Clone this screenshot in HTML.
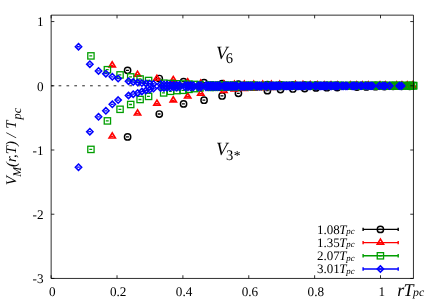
<!DOCTYPE html>
<html><head><meta charset="utf-8"><title>plot</title><style>html,body{margin:0;padding:0;background:#fff}svg{display:block;will-change:transform}text{text-rendering:geometricPrecision}</style></head><body>
<svg width="436" height="305" viewBox="0 0 436 305">
<rect width="436" height="305" fill="#fff"/>
<path d="M51.15 85.79H413.45" stroke="#000" stroke-width="0.85" stroke-dasharray="2.7 5.16" stroke-dashoffset="0.4" fill="none"/>
<g font-family="Liberation Serif, serif" font-size="13.2" fill="#000">
<text x="43.6" y="26.32" text-anchor="end">1</text>
<text x="43.6" y="90.54" text-anchor="end">0</text>
<text x="43.6" y="154.76" text-anchor="end">-1</text>
<text x="43.6" y="218.98" text-anchor="end">-2</text>
<text x="43.6" y="283.20" text-anchor="end">-3</text>
<text x="52.35" y="296.3" text-anchor="middle">0</text>
<text x="118.22" y="296.3" text-anchor="middle">0.2</text>
<text x="184.10" y="296.3" text-anchor="middle">0.4</text>
<text x="249.97" y="296.3" text-anchor="middle">0.6</text>
<text x="315.84" y="296.3" text-anchor="middle">0.8</text>
<text x="381.71" y="296.3" text-anchor="middle">1</text>
</g>
<g stroke="#000000" fill="none" stroke-linejoin="miter" stroke-miterlimit="10">
<g stroke-width="1.45"><circle cx="127.60" cy="70.30" r="3.15"/><circle cx="127.60" cy="136.90" r="3.15"/><circle cx="159.27" cy="78.50" r="3.15"/><circle cx="159.27" cy="114.00" r="3.15"/><circle cx="183.57" cy="81.70" r="3.15"/><circle cx="183.57" cy="103.90" r="3.15"/><circle cx="204.05" cy="82.60" r="3.15"/><circle cx="204.05" cy="100.20" r="3.15"/><circle cx="222.10" cy="83.70" r="3.15"/><circle cx="222.10" cy="95.95" r="3.15"/><circle cx="238.41" cy="84.10" r="3.15"/><circle cx="238.41" cy="93.30" r="3.15"/><circle cx="267.38" cy="84.60" r="3.15"/><circle cx="267.38" cy="90.65" r="3.15"/><circle cx="280.50" cy="84.80" r="3.15"/><circle cx="280.50" cy="89.60" r="3.15"/><circle cx="292.91" cy="85.00" r="3.15"/><circle cx="292.91" cy="88.95" r="3.15"/><circle cx="304.71" cy="85.10" r="3.15"/><circle cx="304.71" cy="88.60" r="3.15"/><circle cx="315.98" cy="85.20" r="3.15"/><circle cx="315.98" cy="87.90" r="3.15"/><circle cx="326.79" cy="85.33" r="3.15"/><circle cx="326.79" cy="87.70" r="3.15"/><circle cx="337.20" cy="85.35" r="3.15"/><circle cx="337.20" cy="87.50" r="3.15"/><circle cx="356.95" cy="85.40" r="3.15"/><circle cx="356.95" cy="87.10" r="3.15"/><circle cx="366.36" cy="85.42" r="3.15"/><circle cx="366.36" cy="86.90" r="3.15"/><circle cx="375.50" cy="85.45" r="3.15"/><circle cx="375.50" cy="86.70" r="3.15"/><circle cx="384.39" cy="85.47" r="3.15"/><circle cx="384.39" cy="86.50" r="3.15"/><circle cx="393.04" cy="85.50" r="3.15"/><circle cx="393.04" cy="86.30" r="3.15"/><circle cx="401.49" cy="85.50" r="3.15"/><circle cx="401.49" cy="86.30" r="3.15"/><circle cx="409.73" cy="85.50" r="3.15"/><circle cx="409.73" cy="86.30" r="3.15"/></g>
<path stroke-width="1.3" d="M126.00 70.30h2.9M126.00 136.90h2.9M157.67 78.50h2.9M157.67 114.00h2.9M181.97 81.70h2.9M181.97 103.90h2.9M202.45 82.60h2.9M202.45 100.20h2.9M220.50 83.70h2.9M220.50 95.95h2.9M236.81 84.10h2.9M236.81 93.30h2.9M265.78 84.60h2.9M265.78 90.65h2.9M278.90 84.80h2.9M278.90 89.60h2.9M291.31 85.00h2.9M291.31 88.95h2.9M303.11 85.10h2.9M303.11 88.60h2.9M314.38 85.20h2.9M314.38 87.90h2.9M325.19 85.33h2.9M325.19 87.70h2.9M335.60 85.35h2.9M335.60 87.50h2.9M355.35 85.40h2.9M355.35 87.10h2.9M364.76 85.42h2.9M364.76 86.90h2.9M373.90 85.45h2.9M373.90 86.70h2.9M382.79 85.47h2.9M382.79 86.50h2.9M391.44 85.50h2.9M391.44 86.30h2.9M399.89 85.50h2.9M399.89 86.30h2.9M408.13 85.50h2.9M408.13 86.30h2.9"/>
</g>
<g stroke="#ff0000" fill="none" stroke-linejoin="miter" stroke-miterlimit="10">
<g stroke-width="1.6"><path d="M112.22 61.77l-3.15 5.10h6.30z"/><path d="M112.22 132.87l-3.15 5.10h6.30z"/><path d="M137.52 71.17l-3.15 5.10h6.30z"/><path d="M137.52 109.87l-3.15 5.10h6.30z"/><path d="M156.93 75.17l-3.15 5.10h6.30z"/><path d="M156.93 100.07l-3.15 5.10h6.30z"/><path d="M173.29 76.47l-3.15 5.10h6.30z"/><path d="M173.29 96.77l-3.15 5.10h6.30z"/><path d="M187.71 78.67l-3.15 5.10h6.30z"/><path d="M187.71 92.97l-3.15 5.10h6.30z"/><path d="M200.74 79.97l-3.15 5.10h6.30z"/><path d="M200.74 90.07l-3.15 5.10h6.30z"/><path d="M223.88 80.77l-3.15 5.10h6.30z"/><path d="M223.88 87.27l-3.15 5.10h6.30z"/><path d="M234.36 81.07l-3.15 5.10h6.30z"/><path d="M234.36 85.87l-3.15 5.10h6.30z"/><path d="M244.27 81.07l-3.15 5.10h6.30z"/><path d="M244.27 85.47l-3.15 5.10h6.30z"/><path d="M253.70 81.07l-3.15 5.10h6.30z"/><path d="M253.70 85.07l-3.15 5.10h6.30z"/><path d="M262.70 81.07l-3.15 5.10h6.30z"/><path d="M262.70 84.54l-3.15 5.10h6.30z"/><path d="M271.34 81.07l-3.15 5.10h6.30z"/><path d="M271.34 84.31l-3.15 5.10h6.30z"/><path d="M279.65 81.07l-3.15 5.10h6.30z"/><path d="M279.65 84.08l-3.15 5.10h6.30z"/><path d="M295.43 81.27l-3.15 5.10h6.30z"/><path d="M295.43 83.62l-3.15 5.10h6.30z"/><path d="M302.95 81.37l-3.15 5.10h6.30z"/><path d="M302.95 83.39l-3.15 5.10h6.30z"/><path d="M310.25 81.47l-3.15 5.10h6.30z"/><path d="M310.25 83.16l-3.15 5.10h6.30z"/><path d="M317.35 81.57l-3.15 5.10h6.30z"/><path d="M317.35 82.93l-3.15 5.10h6.30z"/><path d="M324.26 81.67l-3.15 5.10h6.30z"/><path d="M324.26 82.70l-3.15 5.10h6.30z"/><path d="M331.01 81.77l-3.15 5.10h6.30z"/><path d="M331.01 82.47l-3.15 5.10h6.30z"/><path d="M337.59 81.77l-3.15 5.10h6.30z"/><path d="M337.59 82.47l-3.15 5.10h6.30z"/><path d="M350.33 81.77l-3.15 5.10h6.30z"/><path d="M350.33 82.47l-3.15 5.10h6.30z"/><path d="M356.50 81.77l-3.15 5.10h6.30z"/><path d="M356.50 82.47l-3.15 5.10h6.30z"/><path d="M362.55 81.77l-3.15 5.10h6.30z"/><path d="M362.55 82.47l-3.15 5.10h6.30z"/><path d="M368.48 81.77l-3.15 5.10h6.30z"/><path d="M368.48 82.47l-3.15 5.10h6.30z"/><path d="M380.02 81.77l-3.15 5.10h6.30z"/><path d="M380.02 82.47l-3.15 5.10h6.30z"/><path d="M385.64 81.77l-3.15 5.10h6.30z"/><path d="M385.64 82.47l-3.15 5.10h6.30z"/><path d="M396.61 81.77l-3.15 5.10h6.30z"/><path d="M396.61 82.47l-3.15 5.10h6.30z"/><path d="M401.97 81.77l-3.15 5.10h6.30z"/><path d="M401.97 82.47l-3.15 5.10h6.30z"/><path d="M407.25 81.77l-3.15 5.10h6.30z"/><path d="M407.25 82.47l-3.15 5.10h6.30z"/><path d="M412.44 81.77l-3.15 5.10h6.30z"/><path d="M412.44 82.47l-3.15 5.10h6.30z"/></g>
<path stroke-width="1.3" d="M110.62 65.30h2.9M110.62 136.40h2.9M135.92 74.70h2.9M135.92 113.40h2.9M155.33 78.70h2.9M155.33 103.60h2.9M171.69 80.00h2.9M171.69 100.30h2.9M186.11 82.20h2.9M186.11 96.50h2.9M199.14 83.50h2.9M199.14 93.60h2.9M222.28 84.30h2.9M222.28 90.80h2.9M232.76 84.60h2.9M232.76 89.40h2.9M242.67 84.60h2.9M242.67 89.00h2.9M252.10 84.60h2.9M252.10 88.60h2.9M261.10 84.60h2.9M261.10 88.07h2.9M269.74 84.60h2.9M269.74 87.84h2.9M278.05 84.60h2.9M278.05 87.61h2.9M293.83 84.80h2.9M293.83 87.15h2.9M301.35 84.90h2.9M301.35 86.92h2.9M308.65 85.00h2.9M308.65 86.69h2.9M315.75 85.10h2.9M315.75 86.46h2.9M322.66 85.20h2.9M322.66 86.23h2.9M329.41 85.30h2.9M329.41 86.00h2.9M335.99 85.30h2.9M335.99 86.00h2.9M348.73 85.30h2.9M348.73 86.00h2.9M354.90 85.30h2.9M354.90 86.00h2.9M360.95 85.30h2.9M360.95 86.00h2.9M366.88 85.30h2.9M366.88 86.00h2.9M378.42 85.30h2.9M378.42 86.00h2.9M384.04 85.30h2.9M384.04 86.00h2.9M395.01 85.30h2.9M395.01 86.00h2.9M400.37 85.30h2.9M400.37 86.00h2.9M405.65 85.30h2.9M405.65 86.00h2.9M410.84 85.30h2.9M410.84 86.00h2.9"/>
</g>
<g stroke="#009e00" fill="none" stroke-linejoin="miter" stroke-miterlimit="10">
<g stroke-width="1.3"><rect x="87.78" y="52.75" width="6.30" height="6.30"/><rect x="87.78" y="146.25" width="6.30" height="6.30"/><rect x="104.25" y="66.55" width="6.30" height="6.30"/><rect x="104.25" y="117.75" width="6.30" height="6.30"/><rect x="116.90" y="71.75" width="6.30" height="6.30"/><rect x="116.90" y="106.15" width="6.30" height="6.30"/><rect x="127.56" y="73.75" width="6.30" height="6.30"/><rect x="127.56" y="101.35" width="6.30" height="6.30"/><rect x="136.95" y="75.85" width="6.30" height="6.30"/><rect x="136.95" y="96.35" width="6.30" height="6.30"/><rect x="145.44" y="77.35" width="6.30" height="6.30"/><rect x="145.44" y="93.25" width="6.30" height="6.30"/><rect x="160.51" y="80.05" width="6.30" height="6.30"/><rect x="160.51" y="89.75" width="6.30" height="6.30"/><rect x="167.33" y="80.35" width="6.30" height="6.30"/><rect x="167.33" y="88.15" width="6.30" height="6.30"/><rect x="173.79" y="80.65" width="6.30" height="6.30"/><rect x="173.79" y="87.45" width="6.30" height="6.30"/><rect x="179.93" y="80.85" width="6.30" height="6.30"/><rect x="179.93" y="87.15" width="6.30" height="6.30"/><rect x="185.80" y="81.05" width="6.30" height="6.30"/><rect x="185.80" y="86.20" width="6.30" height="6.30"/><rect x="191.42" y="81.30" width="6.30" height="6.30"/><rect x="191.42" y="85.45" width="6.30" height="6.30"/><rect x="196.84" y="81.55" width="6.30" height="6.30"/><rect x="196.84" y="84.70" width="6.30" height="6.30"/><rect x="207.11" y="81.75" width="6.30" height="6.30"/><rect x="207.11" y="84.25" width="6.30" height="6.30"/><rect x="212.01" y="81.97" width="6.30" height="6.30"/><rect x="212.01" y="84.16" width="6.30" height="6.30"/><rect x="216.76" y="81.99" width="6.30" height="6.30"/><rect x="216.76" y="84.07" width="6.30" height="6.30"/><rect x="221.39" y="82.01" width="6.30" height="6.30"/><rect x="221.39" y="83.98" width="6.30" height="6.30"/><rect x="225.89" y="82.03" width="6.30" height="6.30"/><rect x="225.89" y="83.89" width="6.30" height="6.30"/><rect x="230.29" y="82.05" width="6.30" height="6.30"/><rect x="230.29" y="83.81" width="6.30" height="6.30"/><rect x="234.58" y="82.07" width="6.30" height="6.30"/><rect x="234.58" y="83.72" width="6.30" height="6.30"/><rect x="242.87" y="82.11" width="6.30" height="6.30"/><rect x="242.87" y="83.54" width="6.30" height="6.30"/><rect x="246.89" y="82.13" width="6.30" height="6.30"/><rect x="246.89" y="83.45" width="6.30" height="6.30"/><rect x="250.83" y="82.15" width="6.30" height="6.30"/><rect x="250.83" y="83.40" width="6.30" height="6.30"/><rect x="254.69" y="82.17" width="6.30" height="6.30"/><rect x="254.69" y="83.36" width="6.30" height="6.30"/><rect x="262.21" y="82.21" width="6.30" height="6.30"/><rect x="262.21" y="83.26" width="6.30" height="6.30"/><rect x="265.87" y="82.23" width="6.30" height="6.30"/><rect x="265.87" y="83.22" width="6.30" height="6.30"/><rect x="273.02" y="82.27" width="6.30" height="6.30"/><rect x="273.02" y="83.12" width="6.30" height="6.30"/><rect x="276.51" y="82.29" width="6.30" height="6.30"/><rect x="276.51" y="83.08" width="6.30" height="6.30"/><rect x="279.94" y="82.31" width="6.30" height="6.30"/><rect x="279.94" y="83.03" width="6.30" height="6.30"/><rect x="283.33" y="82.33" width="6.30" height="6.30"/><rect x="283.33" y="82.98" width="6.30" height="6.30"/><rect x="286.67" y="82.35" width="6.30" height="6.30"/><rect x="286.67" y="82.94" width="6.30" height="6.30"/><rect x="289.96" y="82.35" width="6.30" height="6.30"/><rect x="289.96" y="82.89" width="6.30" height="6.30"/><rect x="293.21" y="82.35" width="6.30" height="6.30"/><rect x="293.21" y="82.84" width="6.30" height="6.30"/><rect x="299.58" y="82.35" width="6.30" height="6.30"/><rect x="299.58" y="82.75" width="6.30" height="6.30"/><rect x="302.70" y="82.35" width="6.30" height="6.30"/><rect x="302.70" y="82.75" width="6.30" height="6.30"/><rect x="305.79" y="82.35" width="6.30" height="6.30"/><rect x="305.79" y="82.75" width="6.30" height="6.30"/><rect x="308.84" y="82.35" width="6.30" height="6.30"/><rect x="308.84" y="82.75" width="6.30" height="6.30"/><rect x="311.86" y="82.35" width="6.30" height="6.30"/><rect x="311.86" y="82.75" width="6.30" height="6.30"/><rect x="314.84" y="82.35" width="6.30" height="6.30"/><rect x="314.84" y="82.75" width="6.30" height="6.30"/><rect x="317.79" y="82.35" width="6.30" height="6.30"/><rect x="317.79" y="82.75" width="6.30" height="6.30"/><rect x="323.59" y="82.35" width="6.30" height="6.30"/><rect x="323.59" y="82.75" width="6.30" height="6.30"/><rect x="326.45" y="82.35" width="6.30" height="6.30"/><rect x="326.45" y="82.75" width="6.30" height="6.30"/><rect x="329.27" y="82.35" width="6.30" height="6.30"/><rect x="329.27" y="82.75" width="6.30" height="6.30"/><rect x="332.07" y="82.35" width="6.30" height="6.30"/><rect x="332.07" y="82.75" width="6.30" height="6.30"/><rect x="334.84" y="82.35" width="6.30" height="6.30"/><rect x="334.84" y="82.75" width="6.30" height="6.30"/><rect x="337.59" y="82.35" width="6.30" height="6.30"/><rect x="337.59" y="82.75" width="6.30" height="6.30"/><rect x="340.31" y="82.35" width="6.30" height="6.30"/><rect x="340.31" y="82.75" width="6.30" height="6.30"/><rect x="345.67" y="82.35" width="6.30" height="6.30"/><rect x="345.67" y="82.75" width="6.30" height="6.30"/><rect x="348.32" y="82.35" width="6.30" height="6.30"/><rect x="348.32" y="82.75" width="6.30" height="6.30"/><rect x="350.94" y="82.35" width="6.30" height="6.30"/><rect x="350.94" y="82.75" width="6.30" height="6.30"/><rect x="353.54" y="82.35" width="6.30" height="6.30"/><rect x="353.54" y="82.75" width="6.30" height="6.30"/><rect x="358.68" y="82.35" width="6.30" height="6.30"/><rect x="358.68" y="82.75" width="6.30" height="6.30"/><rect x="361.21" y="82.35" width="6.30" height="6.30"/><rect x="361.21" y="82.75" width="6.30" height="6.30"/><rect x="366.23" y="82.35" width="6.30" height="6.30"/><rect x="366.23" y="82.75" width="6.30" height="6.30"/><rect x="368.70" y="82.35" width="6.30" height="6.30"/><rect x="368.70" y="82.75" width="6.30" height="6.30"/><rect x="371.16" y="82.35" width="6.30" height="6.30"/><rect x="371.16" y="82.75" width="6.30" height="6.30"/><rect x="373.60" y="82.35" width="6.30" height="6.30"/><rect x="373.60" y="82.75" width="6.30" height="6.30"/><rect x="376.02" y="82.35" width="6.30" height="6.30"/><rect x="376.02" y="82.75" width="6.30" height="6.30"/><rect x="378.42" y="82.35" width="6.30" height="6.30"/><rect x="378.42" y="82.75" width="6.30" height="6.30"/><rect x="380.81" y="82.35" width="6.30" height="6.30"/><rect x="380.81" y="82.75" width="6.30" height="6.30"/><rect x="385.53" y="82.35" width="6.30" height="6.30"/><rect x="385.53" y="82.75" width="6.30" height="6.30"/><rect x="387.87" y="82.35" width="6.30" height="6.30"/><rect x="387.87" y="82.75" width="6.30" height="6.30"/><rect x="390.19" y="82.35" width="6.30" height="6.30"/><rect x="390.19" y="82.75" width="6.30" height="6.30"/><rect x="392.49" y="82.35" width="6.30" height="6.30"/><rect x="392.49" y="82.75" width="6.30" height="6.30"/><rect x="394.78" y="82.35" width="6.30" height="6.30"/><rect x="394.78" y="82.75" width="6.30" height="6.30"/><rect x="397.05" y="82.35" width="6.30" height="6.30"/><rect x="397.05" y="82.75" width="6.30" height="6.30"/><rect x="399.31" y="82.35" width="6.30" height="6.30"/><rect x="399.31" y="82.75" width="6.30" height="6.30"/><rect x="403.79" y="82.35" width="6.30" height="6.30"/><rect x="403.79" y="82.75" width="6.30" height="6.30"/><rect x="406.00" y="82.35" width="6.30" height="6.30"/><rect x="406.00" y="82.75" width="6.30" height="6.30"/><rect x="408.21" y="82.35" width="6.30" height="6.30"/><rect x="408.21" y="82.75" width="6.30" height="6.30"/><rect x="410.40" y="82.35" width="6.30" height="6.30"/><rect x="410.40" y="82.75" width="6.30" height="6.30"/></g>
<path stroke-width="1.3" d="M89.33 55.90h2.9M89.33 149.40h2.9M105.80 69.70h2.9M105.80 120.90h2.9M118.45 74.90h2.9M118.45 109.30h2.9M129.11 76.90h2.9M129.11 104.50h2.9M138.50 79.00h2.9M138.50 99.50h2.9M146.99 80.50h2.9M146.99 96.40h2.9M162.06 83.20h2.9M162.06 92.90h2.9M168.88 83.50h2.9M168.88 91.30h2.9M175.34 83.80h2.9M175.34 90.60h2.9M181.48 84.00h2.9M181.48 90.30h2.9M187.35 84.20h2.9M187.35 89.35h2.9M192.97 84.45h2.9M192.97 88.60h2.9M198.39 84.70h2.9M198.39 87.85h2.9M208.66 84.90h2.9M208.66 87.40h2.9M213.56 85.12h2.9M213.56 87.31h2.9M218.31 85.14h2.9M218.31 87.22h2.9M222.94 85.16h2.9M222.94 87.13h2.9M227.44 85.18h2.9M227.44 87.04h2.9M231.84 85.20h2.9M231.84 86.96h2.9M236.13 85.22h2.9M236.13 86.87h2.9M244.42 85.26h2.9M244.42 86.69h2.9M248.44 85.28h2.9M248.44 86.60h2.9M252.38 85.30h2.9M252.38 86.55h2.9M256.24 85.32h2.9M256.24 86.51h2.9M263.76 85.36h2.9M263.76 86.41h2.9M267.42 85.38h2.9M267.42 86.37h2.9M274.57 85.42h2.9M274.57 86.27h2.9M278.06 85.44h2.9M278.06 86.23h2.9M281.49 85.46h2.9M281.49 86.18h2.9M284.88 85.48h2.9M284.88 86.13h2.9M288.22 85.50h2.9M288.22 86.09h2.9M291.51 85.50h2.9M291.51 86.04h2.9M294.76 85.50h2.9M294.76 85.99h2.9M301.13 85.50h2.9M301.13 85.90h2.9M304.25 85.50h2.9M304.25 85.90h2.9M307.34 85.50h2.9M307.34 85.90h2.9M310.39 85.50h2.9M310.39 85.90h2.9M313.41 85.50h2.9M313.41 85.90h2.9M316.39 85.50h2.9M316.39 85.90h2.9M319.34 85.50h2.9M319.34 85.90h2.9M325.14 85.50h2.9M325.14 85.90h2.9M328.00 85.50h2.9M328.00 85.90h2.9M330.82 85.50h2.9M330.82 85.90h2.9M333.62 85.50h2.9M333.62 85.90h2.9M336.39 85.50h2.9M336.39 85.90h2.9M339.14 85.50h2.9M339.14 85.90h2.9M341.86 85.50h2.9M341.86 85.90h2.9M347.22 85.50h2.9M347.22 85.90h2.9M349.87 85.50h2.9M349.87 85.90h2.9M352.49 85.50h2.9M352.49 85.90h2.9M355.09 85.50h2.9M355.09 85.90h2.9M360.23 85.50h2.9M360.23 85.90h2.9M362.76 85.50h2.9M362.76 85.90h2.9M367.78 85.50h2.9M367.78 85.90h2.9M370.25 85.50h2.9M370.25 85.90h2.9M372.71 85.50h2.9M372.71 85.90h2.9M375.15 85.50h2.9M375.15 85.90h2.9M377.57 85.50h2.9M377.57 85.90h2.9M379.97 85.50h2.9M379.97 85.90h2.9M382.36 85.50h2.9M382.36 85.90h2.9M387.08 85.50h2.9M387.08 85.90h2.9M389.42 85.50h2.9M389.42 85.90h2.9M391.74 85.50h2.9M391.74 85.90h2.9M394.04 85.50h2.9M394.04 85.90h2.9M396.33 85.50h2.9M396.33 85.90h2.9M398.60 85.50h2.9M398.60 85.90h2.9M400.86 85.50h2.9M400.86 85.90h2.9M405.34 85.50h2.9M405.34 85.90h2.9M407.55 85.50h2.9M407.55 85.90h2.9M409.76 85.50h2.9M409.76 85.90h2.9M411.95 85.50h2.9M411.95 85.90h2.9"/>
</g>
<g stroke="#0000ff" fill="none" stroke-linejoin="miter" stroke-miterlimit="10">
<g stroke-width="1.55"><path d="M78.51 43.60l3.15 3.15l-3.15 3.15l-3.15 -3.15z"/><path d="M78.51 164.05l3.15 3.15l-3.15 3.15l-3.15 -3.15z"/><path d="M89.84 61.00l3.15 3.15l-3.15 3.15l-3.15 -3.15z"/><path d="M89.84 128.55l3.15 3.15l-3.15 3.15l-3.15 -3.15z"/><path d="M98.53 67.80l3.15 3.15l-3.15 3.15l-3.15 -3.15z"/><path d="M98.53 113.65l3.15 3.15l-3.15 3.15l-3.15 -3.15z"/><path d="M105.86 70.55l3.15 3.15l-3.15 3.15l-3.15 -3.15z"/><path d="M105.86 107.65l3.15 3.15l-3.15 3.15l-3.15 -3.15z"/><path d="M112.32 73.65l3.15 3.15l-3.15 3.15l-3.15 -3.15z"/><path d="M112.32 101.15l3.15 3.15l-3.15 3.15l-3.15 -3.15z"/><path d="M118.16 75.45l3.15 3.15l-3.15 3.15l-3.15 -3.15z"/><path d="M118.16 96.95l3.15 3.15l-3.15 3.15l-3.15 -3.15z"/><path d="M128.52 78.00l3.15 3.15l-3.15 3.15l-3.15 -3.15z"/><path d="M128.52 92.35l3.15 3.15l-3.15 3.15l-3.15 -3.15z"/><path d="M133.22 78.85l3.15 3.15l-3.15 3.15l-3.15 -3.15z"/><path d="M133.22 91.05l3.15 3.15l-3.15 3.15l-3.15 -3.15z"/><path d="M137.66 79.35l3.15 3.15l-3.15 3.15l-3.15 -3.15z"/><path d="M137.66 89.75l3.15 3.15l-3.15 3.15l-3.15 -3.15z"/><path d="M141.88 79.95l3.15 3.15l-3.15 3.15l-3.15 -3.15z"/><path d="M141.88 88.35l3.15 3.15l-3.15 3.15l-3.15 -3.15z"/><path d="M145.91 80.25l3.15 3.15l-3.15 3.15l-3.15 -3.15z"/><path d="M145.91 87.35l3.15 3.15l-3.15 3.15l-3.15 -3.15z"/><path d="M149.78 80.55l3.15 3.15l-3.15 3.15l-3.15 -3.15z"/><path d="M149.78 86.45l3.15 3.15l-3.15 3.15l-3.15 -3.15z"/><path d="M153.51 80.75l3.15 3.15l-3.15 3.15l-3.15 -3.15z"/><path d="M153.51 85.45l3.15 3.15l-3.15 3.15l-3.15 -3.15z"/><path d="M160.57 81.15l3.15 3.15l-3.15 3.15l-3.15 -3.15z"/><path d="M160.57 84.95l3.15 3.15l-3.15 3.15l-3.15 -3.15z"/><path d="M163.94 81.25l3.15 3.15l-3.15 3.15l-3.15 -3.15z"/><path d="M163.94 84.75l3.15 3.15l-3.15 3.15l-3.15 -3.15z"/><path d="M167.21 81.45l3.15 3.15l-3.15 3.15l-3.15 -3.15z"/><path d="M167.21 84.58l3.15 3.15l-3.15 3.15l-3.15 -3.15z"/><path d="M170.39 81.65l3.15 3.15l-3.15 3.15l-3.15 -3.15z"/><path d="M170.39 84.42l3.15 3.15l-3.15 3.15l-3.15 -3.15z"/><path d="M173.49 81.85l3.15 3.15l-3.15 3.15l-3.15 -3.15z"/><path d="M173.49 84.25l3.15 3.15l-3.15 3.15l-3.15 -3.15z"/><path d="M176.51 81.87l3.15 3.15l-3.15 3.15l-3.15 -3.15z"/><path d="M176.51 84.23l3.15 3.15l-3.15 3.15l-3.15 -3.15z"/><path d="M179.46 81.89l3.15 3.15l-3.15 3.15l-3.15 -3.15z"/><path d="M179.46 84.21l3.15 3.15l-3.15 3.15l-3.15 -3.15z"/><path d="M185.17 81.93l3.15 3.15l-3.15 3.15l-3.15 -3.15z"/><path d="M185.17 84.17l3.15 3.15l-3.15 3.15l-3.15 -3.15z"/><path d="M187.93 81.95l3.15 3.15l-3.15 3.15l-3.15 -3.15z"/><path d="M187.93 84.15l3.15 3.15l-3.15 3.15l-3.15 -3.15z"/><path d="M190.64 81.97l3.15 3.15l-3.15 3.15l-3.15 -3.15z"/><path d="M190.64 84.13l3.15 3.15l-3.15 3.15l-3.15 -3.15z"/><path d="M193.29 81.99l3.15 3.15l-3.15 3.15l-3.15 -3.15z"/><path d="M193.29 84.11l3.15 3.15l-3.15 3.15l-3.15 -3.15z"/><path d="M198.47 82.03l3.15 3.15l-3.15 3.15l-3.15 -3.15z"/><path d="M198.47 84.07l3.15 3.15l-3.15 3.15l-3.15 -3.15z"/><path d="M200.98 82.05l3.15 3.15l-3.15 3.15l-3.15 -3.15z"/><path d="M200.98 84.05l3.15 3.15l-3.15 3.15l-3.15 -3.15z"/><path d="M205.90 82.08l3.15 3.15l-3.15 3.15l-3.15 -3.15z"/><path d="M205.90 83.99l3.15 3.15l-3.15 3.15l-3.15 -3.15z"/><path d="M208.30 82.09l3.15 3.15l-3.15 3.15l-3.15 -3.15z"/><path d="M208.30 83.96l3.15 3.15l-3.15 3.15l-3.15 -3.15z"/><path d="M210.66 82.11l3.15 3.15l-3.15 3.15l-3.15 -3.15z"/><path d="M210.66 83.93l3.15 3.15l-3.15 3.15l-3.15 -3.15z"/><path d="M212.99 82.12l3.15 3.15l-3.15 3.15l-3.15 -3.15z"/><path d="M212.99 83.90l3.15 3.15l-3.15 3.15l-3.15 -3.15z"/><path d="M215.28 82.14l3.15 3.15l-3.15 3.15l-3.15 -3.15z"/><path d="M215.28 83.87l3.15 3.15l-3.15 3.15l-3.15 -3.15z"/><path d="M217.55 82.15l3.15 3.15l-3.15 3.15l-3.15 -3.15z"/><path d="M217.55 83.84l3.15 3.15l-3.15 3.15l-3.15 -3.15z"/><path d="M219.78 82.17l3.15 3.15l-3.15 3.15l-3.15 -3.15z"/><path d="M219.78 83.81l3.15 3.15l-3.15 3.15l-3.15 -3.15z"/><path d="M224.16 82.20l3.15 3.15l-3.15 3.15l-3.15 -3.15z"/><path d="M224.16 83.76l3.15 3.15l-3.15 3.15l-3.15 -3.15z"/><path d="M226.31 82.21l3.15 3.15l-3.15 3.15l-3.15 -3.15z"/><path d="M226.31 83.73l3.15 3.15l-3.15 3.15l-3.15 -3.15z"/><path d="M228.44 82.23l3.15 3.15l-3.15 3.15l-3.15 -3.15z"/><path d="M228.44 83.70l3.15 3.15l-3.15 3.15l-3.15 -3.15z"/><path d="M230.53 82.24l3.15 3.15l-3.15 3.15l-3.15 -3.15z"/><path d="M230.53 83.67l3.15 3.15l-3.15 3.15l-3.15 -3.15z"/><path d="M232.61 82.26l3.15 3.15l-3.15 3.15l-3.15 -3.15z"/><path d="M232.61 83.64l3.15 3.15l-3.15 3.15l-3.15 -3.15z"/><path d="M234.66 82.27l3.15 3.15l-3.15 3.15l-3.15 -3.15z"/><path d="M234.66 83.61l3.15 3.15l-3.15 3.15l-3.15 -3.15z"/><path d="M236.69 82.29l3.15 3.15l-3.15 3.15l-3.15 -3.15z"/><path d="M236.69 83.58l3.15 3.15l-3.15 3.15l-3.15 -3.15z"/><path d="M240.68 82.30l3.15 3.15l-3.15 3.15l-3.15 -3.15z"/><path d="M240.68 83.53l3.15 3.15l-3.15 3.15l-3.15 -3.15z"/><path d="M242.64 82.31l3.15 3.15l-3.15 3.15l-3.15 -3.15z"/><path d="M242.64 83.50l3.15 3.15l-3.15 3.15l-3.15 -3.15z"/><path d="M244.58 82.31l3.15 3.15l-3.15 3.15l-3.15 -3.15z"/><path d="M244.58 83.48l3.15 3.15l-3.15 3.15l-3.15 -3.15z"/><path d="M246.51 82.31l3.15 3.15l-3.15 3.15l-3.15 -3.15z"/><path d="M246.51 83.46l3.15 3.15l-3.15 3.15l-3.15 -3.15z"/><path d="M248.42 82.31l3.15 3.15l-3.15 3.15l-3.15 -3.15z"/><path d="M248.42 83.43l3.15 3.15l-3.15 3.15l-3.15 -3.15z"/><path d="M250.30 82.32l3.15 3.15l-3.15 3.15l-3.15 -3.15z"/><path d="M250.30 83.41l3.15 3.15l-3.15 3.15l-3.15 -3.15z"/><path d="M252.17 82.32l3.15 3.15l-3.15 3.15l-3.15 -3.15z"/><path d="M252.17 83.39l3.15 3.15l-3.15 3.15l-3.15 -3.15z"/><path d="M255.86 82.33l3.15 3.15l-3.15 3.15l-3.15 -3.15z"/><path d="M255.86 83.34l3.15 3.15l-3.15 3.15l-3.15 -3.15z"/><path d="M257.68 82.33l3.15 3.15l-3.15 3.15l-3.15 -3.15z"/><path d="M257.68 83.32l3.15 3.15l-3.15 3.15l-3.15 -3.15z"/><path d="M259.49 82.33l3.15 3.15l-3.15 3.15l-3.15 -3.15z"/><path d="M259.49 83.30l3.15 3.15l-3.15 3.15l-3.15 -3.15z"/><path d="M261.27 82.33l3.15 3.15l-3.15 3.15l-3.15 -3.15z"/><path d="M261.27 83.27l3.15 3.15l-3.15 3.15l-3.15 -3.15z"/><path d="M264.81 82.34l3.15 3.15l-3.15 3.15l-3.15 -3.15z"/><path d="M264.81 83.25l3.15 3.15l-3.15 3.15l-3.15 -3.15z"/><path d="M266.55 82.34l3.15 3.15l-3.15 3.15l-3.15 -3.15z"/><path d="M266.55 83.24l3.15 3.15l-3.15 3.15l-3.15 -3.15z"/><path d="M270.00 82.35l3.15 3.15l-3.15 3.15l-3.15 -3.15z"/><path d="M270.00 83.23l3.15 3.15l-3.15 3.15l-3.15 -3.15z"/><path d="M271.70 82.35l3.15 3.15l-3.15 3.15l-3.15 -3.15z"/><path d="M271.70 83.22l3.15 3.15l-3.15 3.15l-3.15 -3.15z"/><path d="M273.39 82.35l3.15 3.15l-3.15 3.15l-3.15 -3.15z"/><path d="M273.39 83.22l3.15 3.15l-3.15 3.15l-3.15 -3.15z"/><path d="M275.07 82.36l3.15 3.15l-3.15 3.15l-3.15 -3.15z"/><path d="M275.07 83.22l3.15 3.15l-3.15 3.15l-3.15 -3.15z"/><path d="M276.73 82.36l3.15 3.15l-3.15 3.15l-3.15 -3.15z"/><path d="M276.73 83.21l3.15 3.15l-3.15 3.15l-3.15 -3.15z"/><path d="M278.38 82.36l3.15 3.15l-3.15 3.15l-3.15 -3.15z"/><path d="M278.38 83.20l3.15 3.15l-3.15 3.15l-3.15 -3.15z"/><path d="M280.02 82.37l3.15 3.15l-3.15 3.15l-3.15 -3.15z"/><path d="M280.02 83.20l3.15 3.15l-3.15 3.15l-3.15 -3.15z"/><path d="M283.27 82.37l3.15 3.15l-3.15 3.15l-3.15 -3.15z"/><path d="M283.27 83.19l3.15 3.15l-3.15 3.15l-3.15 -3.15z"/><path d="M284.88 82.37l3.15 3.15l-3.15 3.15l-3.15 -3.15z"/><path d="M284.88 83.19l3.15 3.15l-3.15 3.15l-3.15 -3.15z"/><path d="M286.47 82.38l3.15 3.15l-3.15 3.15l-3.15 -3.15z"/><path d="M286.47 83.18l3.15 3.15l-3.15 3.15l-3.15 -3.15z"/><path d="M288.06 82.38l3.15 3.15l-3.15 3.15l-3.15 -3.15z"/><path d="M288.06 83.17l3.15 3.15l-3.15 3.15l-3.15 -3.15z"/><path d="M289.63 82.38l3.15 3.15l-3.15 3.15l-3.15 -3.15z"/><path d="M289.63 83.17l3.15 3.15l-3.15 3.15l-3.15 -3.15z"/><path d="M291.20 82.38l3.15 3.15l-3.15 3.15l-3.15 -3.15z"/><path d="M291.20 83.16l3.15 3.15l-3.15 3.15l-3.15 -3.15z"/><path d="M292.75 82.39l3.15 3.15l-3.15 3.15l-3.15 -3.15z"/><path d="M292.75 83.16l3.15 3.15l-3.15 3.15l-3.15 -3.15z"/><path d="M295.83 82.39l3.15 3.15l-3.15 3.15l-3.15 -3.15z"/><path d="M295.83 83.15l3.15 3.15l-3.15 3.15l-3.15 -3.15z"/><path d="M297.35 82.40l3.15 3.15l-3.15 3.15l-3.15 -3.15z"/><path d="M297.35 83.14l3.15 3.15l-3.15 3.15l-3.15 -3.15z"/><path d="M298.87 82.40l3.15 3.15l-3.15 3.15l-3.15 -3.15z"/><path d="M298.87 83.14l3.15 3.15l-3.15 3.15l-3.15 -3.15z"/><path d="M300.37 82.40l3.15 3.15l-3.15 3.15l-3.15 -3.15z"/><path d="M300.37 83.14l3.15 3.15l-3.15 3.15l-3.15 -3.15z"/><path d="M301.87 82.40l3.15 3.15l-3.15 3.15l-3.15 -3.15z"/><path d="M301.87 83.13l3.15 3.15l-3.15 3.15l-3.15 -3.15z"/><path d="M303.36 82.41l3.15 3.15l-3.15 3.15l-3.15 -3.15z"/><path d="M303.36 83.12l3.15 3.15l-3.15 3.15l-3.15 -3.15z"/><path d="M304.84 82.41l3.15 3.15l-3.15 3.15l-3.15 -3.15z"/><path d="M304.84 83.12l3.15 3.15l-3.15 3.15l-3.15 -3.15z"/><path d="M307.77 82.42l3.15 3.15l-3.15 3.15l-3.15 -3.15z"/><path d="M307.77 83.11l3.15 3.15l-3.15 3.15l-3.15 -3.15z"/><path d="M309.22 82.42l3.15 3.15l-3.15 3.15l-3.15 -3.15z"/><path d="M309.22 83.11l3.15 3.15l-3.15 3.15l-3.15 -3.15z"/><path d="M310.67 82.42l3.15 3.15l-3.15 3.15l-3.15 -3.15z"/><path d="M310.67 83.10l3.15 3.15l-3.15 3.15l-3.15 -3.15z"/><path d="M314.96 82.43l3.15 3.15l-3.15 3.15l-3.15 -3.15z"/><path d="M314.96 83.08l3.15 3.15l-3.15 3.15l-3.15 -3.15z"/><path d="M316.37 82.43l3.15 3.15l-3.15 3.15l-3.15 -3.15z"/><path d="M316.37 83.08l3.15 3.15l-3.15 3.15l-3.15 -3.15z"/><path d="M319.18 82.44l3.15 3.15l-3.15 3.15l-3.15 -3.15z"/><path d="M319.18 83.07l3.15 3.15l-3.15 3.15l-3.15 -3.15z"/><path d="M320.57 82.44l3.15 3.15l-3.15 3.15l-3.15 -3.15z"/><path d="M320.57 83.06l3.15 3.15l-3.15 3.15l-3.15 -3.15z"/><path d="M321.96 82.44l3.15 3.15l-3.15 3.15l-3.15 -3.15z"/><path d="M321.96 83.06l3.15 3.15l-3.15 3.15l-3.15 -3.15z"/><path d="M323.34 82.45l3.15 3.15l-3.15 3.15l-3.15 -3.15z"/><path d="M323.34 83.05l3.15 3.15l-3.15 3.15l-3.15 -3.15z"/><path d="M324.71 82.45l3.15 3.15l-3.15 3.15l-3.15 -3.15z"/><path d="M324.71 83.05l3.15 3.15l-3.15 3.15l-3.15 -3.15z"/><path d="M326.07 82.45l3.15 3.15l-3.15 3.15l-3.15 -3.15z"/><path d="M326.07 83.05l3.15 3.15l-3.15 3.15l-3.15 -3.15z"/><path d="M327.43 82.45l3.15 3.15l-3.15 3.15l-3.15 -3.15z"/><path d="M327.43 83.04l3.15 3.15l-3.15 3.15l-3.15 -3.15z"/><path d="M330.13 82.45l3.15 3.15l-3.15 3.15l-3.15 -3.15z"/><path d="M330.13 83.04l3.15 3.15l-3.15 3.15l-3.15 -3.15z"/><path d="M331.46 82.45l3.15 3.15l-3.15 3.15l-3.15 -3.15z"/><path d="M331.46 83.03l3.15 3.15l-3.15 3.15l-3.15 -3.15z"/><path d="M334.12 82.46l3.15 3.15l-3.15 3.15l-3.15 -3.15z"/><path d="M334.12 83.03l3.15 3.15l-3.15 3.15l-3.15 -3.15z"/><path d="M335.44 82.46l3.15 3.15l-3.15 3.15l-3.15 -3.15z"/><path d="M335.44 83.02l3.15 3.15l-3.15 3.15l-3.15 -3.15z"/><path d="M336.75 82.46l3.15 3.15l-3.15 3.15l-3.15 -3.15z"/><path d="M336.75 83.02l3.15 3.15l-3.15 3.15l-3.15 -3.15z"/><path d="M338.06 82.46l3.15 3.15l-3.15 3.15l-3.15 -3.15z"/><path d="M338.06 83.02l3.15 3.15l-3.15 3.15l-3.15 -3.15z"/><path d="M341.95 82.46l3.15 3.15l-3.15 3.15l-3.15 -3.15z"/><path d="M341.95 83.01l3.15 3.15l-3.15 3.15l-3.15 -3.15z"/><path d="M343.23 82.46l3.15 3.15l-3.15 3.15l-3.15 -3.15z"/><path d="M343.23 83.01l3.15 3.15l-3.15 3.15l-3.15 -3.15z"/><path d="M345.78 82.46l3.15 3.15l-3.15 3.15l-3.15 -3.15z"/><path d="M345.78 83.00l3.15 3.15l-3.15 3.15l-3.15 -3.15z"/><path d="M347.05 82.46l3.15 3.15l-3.15 3.15l-3.15 -3.15z"/><path d="M347.05 83.00l3.15 3.15l-3.15 3.15l-3.15 -3.15z"/><path d="M352.06 82.47l3.15 3.15l-3.15 3.15l-3.15 -3.15z"/><path d="M352.06 82.98l3.15 3.15l-3.15 3.15l-3.15 -3.15z"/><path d="M353.30 82.47l3.15 3.15l-3.15 3.15l-3.15 -3.15z"/><path d="M353.30 82.98l3.15 3.15l-3.15 3.15l-3.15 -3.15z"/><path d="M354.54 82.47l3.15 3.15l-3.15 3.15l-3.15 -3.15z"/><path d="M354.54 82.98l3.15 3.15l-3.15 3.15l-3.15 -3.15z"/><path d="M357.00 82.47l3.15 3.15l-3.15 3.15l-3.15 -3.15z"/><path d="M357.00 82.97l3.15 3.15l-3.15 3.15l-3.15 -3.15z"/><path d="M360.65 82.47l3.15 3.15l-3.15 3.15l-3.15 -3.15z"/><path d="M360.65 82.96l3.15 3.15l-3.15 3.15l-3.15 -3.15z"/><path d="M361.85 82.47l3.15 3.15l-3.15 3.15l-3.15 -3.15z"/><path d="M361.85 82.96l3.15 3.15l-3.15 3.15l-3.15 -3.15z"/><path d="M365.44 82.47l3.15 3.15l-3.15 3.15l-3.15 -3.15z"/><path d="M365.44 82.95l3.15 3.15l-3.15 3.15l-3.15 -3.15z"/><path d="M367.82 82.48l3.15 3.15l-3.15 3.15l-3.15 -3.15z"/><path d="M367.82 82.94l3.15 3.15l-3.15 3.15l-3.15 -3.15z"/><path d="M370.17 82.48l3.15 3.15l-3.15 3.15l-3.15 -3.15z"/><path d="M370.17 82.94l3.15 3.15l-3.15 3.15l-3.15 -3.15z"/><path d="M371.34 82.48l3.15 3.15l-3.15 3.15l-3.15 -3.15z"/><path d="M371.34 82.93l3.15 3.15l-3.15 3.15l-3.15 -3.15z"/><path d="M372.51 82.48l3.15 3.15l-3.15 3.15l-3.15 -3.15z"/><path d="M372.51 82.93l3.15 3.15l-3.15 3.15l-3.15 -3.15z"/><path d="M379.42 82.48l3.15 3.15l-3.15 3.15l-3.15 -3.15z"/><path d="M379.42 82.91l3.15 3.15l-3.15 3.15l-3.15 -3.15z"/><path d="M382.82 82.49l3.15 3.15l-3.15 3.15l-3.15 -3.15z"/><path d="M382.82 82.90l3.15 3.15l-3.15 3.15l-3.15 -3.15z"/><path d="M385.07 82.49l3.15 3.15l-3.15 3.15l-3.15 -3.15z"/><path d="M385.07 82.90l3.15 3.15l-3.15 3.15l-3.15 -3.15z"/><path d="M389.52 82.49l3.15 3.15l-3.15 3.15l-3.15 -3.15z"/><path d="M389.52 82.88l3.15 3.15l-3.15 3.15l-3.15 -3.15z"/><path d="M399.33 82.50l3.15 3.15l-3.15 3.15l-3.15 -3.15z"/><path d="M399.33 82.86l3.15 3.15l-3.15 3.15l-3.15 -3.15z"/><path d="M401.47 82.50l3.15 3.15l-3.15 3.15l-3.15 -3.15z"/><path d="M401.47 82.85l3.15 3.15l-3.15 3.15l-3.15 -3.15z"/></g>
<path stroke-width="1.3" d="M76.91 46.75h2.9M76.91 167.20h2.9M88.24 64.15h2.9M88.24 131.70h2.9M96.93 70.95h2.9M96.93 116.80h2.9M104.26 73.70h2.9M104.26 110.80h2.9M110.72 76.80h2.9M110.72 104.30h2.9M116.56 78.60h2.9M116.56 100.10h2.9M126.92 81.15h2.9M126.92 95.50h2.9M131.62 82.00h2.9M131.62 94.20h2.9M136.06 82.50h2.9M136.06 92.90h2.9M140.28 83.10h2.9M140.28 91.50h2.9M144.31 83.40h2.9M144.31 90.50h2.9M148.18 83.70h2.9M148.18 89.60h2.9M151.91 83.90h2.9M151.91 88.60h2.9M158.97 84.30h2.9M158.97 88.10h2.9M162.34 84.40h2.9M162.34 87.90h2.9M165.61 84.60h2.9M165.61 87.73h2.9M168.79 84.80h2.9M168.79 87.57h2.9M171.89 85.00h2.9M171.89 87.40h2.9M174.91 85.02h2.9M174.91 87.38h2.9M177.86 85.04h2.9M177.86 87.36h2.9M183.57 85.08h2.9M183.57 87.32h2.9M186.33 85.10h2.9M186.33 87.30h2.9M189.04 85.12h2.9M189.04 87.28h2.9M191.69 85.14h2.9M191.69 87.26h2.9M196.87 85.18h2.9M196.87 87.22h2.9M199.38 85.20h2.9M199.38 87.20h2.9M204.30 85.23h2.9M204.30 87.14h2.9M206.70 85.24h2.9M206.70 87.11h2.9M209.06 85.26h2.9M209.06 87.08h2.9M211.39 85.27h2.9M211.39 87.05h2.9M213.68 85.29h2.9M213.68 87.02h2.9M215.95 85.30h2.9M215.95 86.99h2.9M218.18 85.32h2.9M218.18 86.96h2.9M222.56 85.35h2.9M222.56 86.91h2.9M224.71 85.36h2.9M224.71 86.88h2.9M226.84 85.38h2.9M226.84 86.85h2.9M228.93 85.39h2.9M228.93 86.82h2.9M231.01 85.41h2.9M231.01 86.79h2.9M233.06 85.42h2.9M233.06 86.76h2.9M235.09 85.44h2.9M235.09 86.73h2.9M239.08 85.45h2.9M239.08 86.68h2.9M241.04 85.46h2.9M241.04 86.65h2.9M242.98 85.46h2.9M242.98 86.63h2.9M244.91 85.46h2.9M244.91 86.61h2.9M246.82 85.46h2.9M246.82 86.58h2.9M248.70 85.47h2.9M248.70 86.56h2.9M250.57 85.47h2.9M250.57 86.54h2.9M254.26 85.48h2.9M254.26 86.49h2.9M256.08 85.48h2.9M256.08 86.47h2.9M257.89 85.48h2.9M257.89 86.45h2.9M259.67 85.48h2.9M259.67 86.42h2.9M263.21 85.49h2.9M263.21 86.40h2.9M264.95 85.49h2.9M264.95 86.39h2.9M268.40 85.50h2.9M268.40 86.38h2.9M270.10 85.50h2.9M270.10 86.38h2.9M271.79 85.50h2.9M271.79 86.37h2.9M273.47 85.51h2.9M273.47 86.37h2.9M275.13 85.51h2.9M275.13 86.36h2.9M276.78 85.51h2.9M276.78 86.36h2.9M278.42 85.52h2.9M278.42 86.35h2.9M281.67 85.52h2.9M281.67 86.34h2.9M283.28 85.52h2.9M283.28 86.34h2.9M284.87 85.53h2.9M284.87 86.33h2.9M286.46 85.53h2.9M286.46 86.33h2.9M288.03 85.53h2.9M288.03 86.32h2.9M289.60 85.53h2.9M289.60 86.31h2.9M291.15 85.54h2.9M291.15 86.31h2.9M294.23 85.54h2.9M294.23 86.30h2.9M295.75 85.55h2.9M295.75 86.30h2.9M297.27 85.55h2.9M297.27 86.29h2.9M298.77 85.55h2.9M298.77 86.29h2.9M300.27 85.55h2.9M300.27 86.28h2.9M301.76 85.56h2.9M301.76 86.28h2.9M303.24 85.56h2.9M303.24 86.27h2.9M306.17 85.57h2.9M306.17 86.26h2.9M307.62 85.57h2.9M307.62 86.26h2.9M309.07 85.57h2.9M309.07 86.25h2.9M313.36 85.58h2.9M313.36 86.23h2.9M314.77 85.58h2.9M314.77 86.23h2.9M317.58 85.59h2.9M317.58 86.22h2.9M318.97 85.59h2.9M318.97 86.22h2.9M320.36 85.59h2.9M320.36 86.21h2.9M321.74 85.60h2.9M321.74 86.20h2.9M323.11 85.60h2.9M323.11 86.20h2.9M324.47 85.60h2.9M324.47 86.20h2.9M325.83 85.60h2.9M325.83 86.19h2.9M328.53 85.60h2.9M328.53 86.19h2.9M329.86 85.60h2.9M329.86 86.18h2.9M332.52 85.61h2.9M332.52 86.18h2.9M333.84 85.61h2.9M333.84 86.17h2.9M335.15 85.61h2.9M335.15 86.17h2.9M336.46 85.61h2.9M336.46 86.17h2.9M340.35 85.61h2.9M340.35 86.16h2.9M341.63 85.61h2.9M341.63 86.16h2.9M344.18 85.61h2.9M344.18 86.15h2.9M345.45 85.61h2.9M345.45 86.15h2.9M350.46 85.62h2.9M350.46 86.13h2.9M351.70 85.62h2.9M351.70 86.13h2.9M352.94 85.62h2.9M352.94 86.13h2.9M355.40 85.62h2.9M355.40 86.12h2.9M359.05 85.62h2.9M359.05 86.11h2.9M360.25 85.62h2.9M360.25 86.11h2.9M363.84 85.62h2.9M363.84 86.10h2.9M366.22 85.63h2.9M366.22 86.09h2.9M368.57 85.63h2.9M368.57 86.09h2.9M369.74 85.63h2.9M369.74 86.08h2.9M370.91 85.63h2.9M370.91 86.08h2.9M377.82 85.63h2.9M377.82 86.06h2.9M381.22 85.64h2.9M381.22 86.05h2.9M383.47 85.64h2.9M383.47 86.05h2.9M387.92 85.64h2.9M387.92 86.03h2.9M397.73 85.65h2.9M397.73 86.01h2.9M399.87 85.65h2.9M399.87 86.00h2.9"/>
</g>
<g stroke="#000" stroke-width="0.82" fill="none">
<path d="M51.15 15.15H413.45V278.45H51.15Z"/>
<path d="M51.15 278.45v-3.2M51.15 15.15v3.2"/>
<path d="M117.02 278.45v-3.2M117.02 15.15v3.2"/>
<path d="M182.90 278.45v-3.2M182.90 15.15v3.2"/>
<path d="M248.77 278.45v-3.2M248.77 15.15v3.2"/>
<path d="M314.64 278.45v-3.2M314.64 15.15v3.2"/>
<path d="M380.51 278.45v-3.2M380.51 15.15v3.2"/>
<path d="M51.15 21.57h3.2M413.45 21.57h-3.2"/>
<path d="M51.15 85.79h3.2M413.45 85.79h-3.2"/>
<path d="M51.15 150.01h3.2M413.45 150.01h-3.2"/>
<path d="M51.15 214.23h3.2M413.45 214.23h-3.2"/>
<path d="M51.15 278.45h3.2M413.45 278.45h-3.2"/>
</g>
<g stroke="#000000" stroke-width="1.4" fill="none"><path d="M362.9 229.4H398.4M363.1 227.70000000000002v3.4M398.2 227.70000000000002v3.4"/></g>
<g stroke="#000000" stroke-width="1.3" fill="none"><g stroke-width="1.45"><circle cx="380.40" cy="229.40" r="3.15"/></g><path d="M378.80 229.40h2.9" stroke-width="1.3"/></g>
<text x="317.0" y="233.70" font-family="Liberation Serif, serif" font-size="13.0" fill="#000">1.08<tspan font-style="italic" dx="-0.5">T</tspan><tspan font-style="italic" font-size="8.8" dy="0.4" dx="-0.2">pc</tspan></text>
<g stroke="#ff0000" stroke-width="1.4" fill="none"><path d="M362.9 242.6H398.4M363.1 240.9v3.4M398.2 240.9v3.4"/></g>
<g stroke="#ff0000" stroke-width="1.3" fill="none"><g stroke-width="1.6"><path d="M380.40 239.07l-3.15 5.10h6.30z"/></g><path d="M378.80 242.60h2.9" stroke-width="1.3"/></g>
<text x="317.0" y="246.90" font-family="Liberation Serif, serif" font-size="13.0" fill="#000">1.35<tspan font-style="italic" dx="-0.5">T</tspan><tspan font-style="italic" font-size="8.8" dy="0.4" dx="-0.2">pc</tspan></text>
<g stroke="#009e00" stroke-width="1.4" fill="none"><path d="M362.9 255.8H398.4M363.1 254.10000000000002v3.4M398.2 254.10000000000002v3.4"/></g>
<g stroke="#009e00" stroke-width="1.3" fill="none"><g stroke-width="1.3"><rect x="377.25" y="252.65" width="6.30" height="6.30"/></g><path d="M378.80 255.80h2.9" stroke-width="1.3"/></g>
<text x="317.0" y="260.10" font-family="Liberation Serif, serif" font-size="13.0" fill="#000">2.07<tspan font-style="italic" dx="-0.5">T</tspan><tspan font-style="italic" font-size="8.8" dy="0.4" dx="-0.2">pc</tspan></text>
<g stroke="#0000ff" stroke-width="1.4" fill="none"><path d="M362.9 269.0H398.4M363.1 267.3v3.4M398.2 267.3v3.4"/></g>
<g stroke="#0000ff" stroke-width="1.3" fill="none"><g stroke-width="1.55"><path d="M380.40 265.85l3.15 3.15l-3.15 3.15l-3.15 -3.15z"/></g><path d="M378.80 269.00h2.9" stroke-width="1.3"/></g>
<text x="317.0" y="273.30" font-family="Liberation Serif, serif" font-size="13.0" fill="#000">3.01<tspan font-style="italic" dx="-0.5">T</tspan><tspan font-style="italic" font-size="8.8" dy="0.4" dx="-0.2">pc</tspan></text>
<text x="216.0" y="58.5" font-family="Liberation Serif, serif" font-size="18.7" font-style="italic" fill="#000">V<tspan font-style="normal" font-size="14.6" dy="4.9" dx="-1.6">6</tspan></text>
<text x="216.0" y="154.7" font-family="Liberation Serif, serif" font-size="18.7" font-style="italic" fill="#000">V<tspan font-style="normal" font-size="14.6" dy="5.0" dx="-1.3">3</tspan><tspan font-style="normal" font-size="13.6" dx="0.4">*</tspan></text>
<text x="397.3" y="295.9" font-family="Liberation Serif, serif" font-size="18" font-style="italic" fill="#000">r<tspan dx="-0.9">T</tspan><tspan font-size="11.8" dy="0.3" dx="-0.4">pc</tspan></text>
<text transform="translate(16.4,185.3) rotate(-90)" font-family="Liberation Serif, serif" font-size="14.8" font-style="italic" fill="#000">V<tspan font-size="11.8" dy="4.5" dx="-0.6">M</tspan><tspan dy="-4.5">(r,T) /</tspan><tspan dx="0.8"> T</tspan><tspan font-size="12.4" dy="4.2" dx="1.2">pc</tspan></text>
</svg>
</body></html>
